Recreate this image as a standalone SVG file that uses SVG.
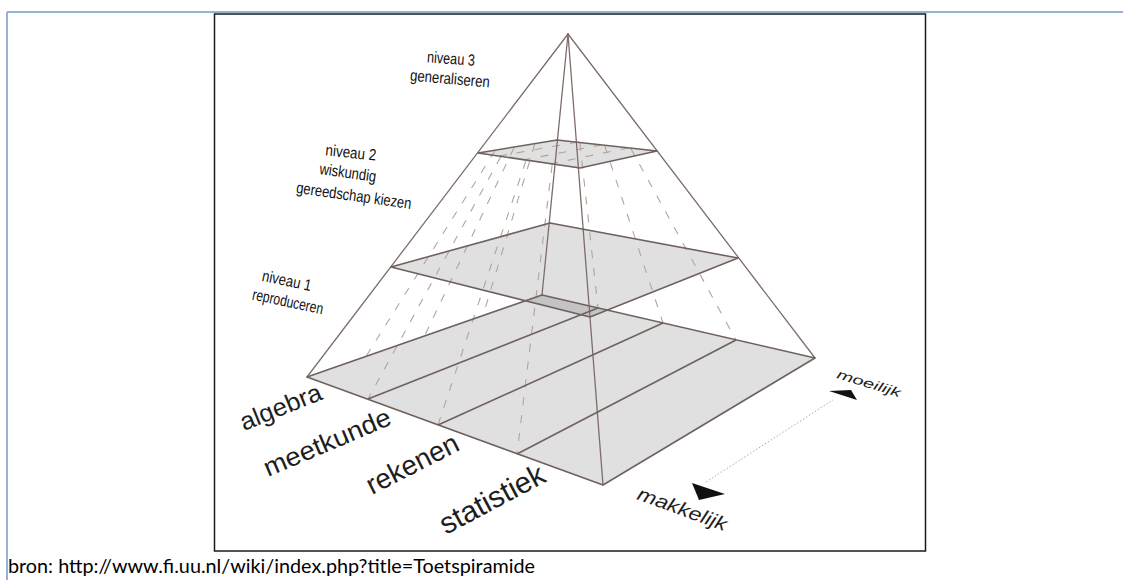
<svg xmlns="http://www.w3.org/2000/svg" width="1123" height="580" viewBox="0 0 1123 580">
<style>
.edge{stroke:#7d6d69;stroke-width:1.3;fill:none;stroke-linecap:round}
.outl{stroke:#6f615d;stroke-width:1.6;fill:none;stroke-linejoin:round}
.dash{stroke:#b3a39e;stroke-width:1.1;stroke-dasharray:8 10;fill:none}
.plane{fill:#000;fill-opacity:0.12}
.lvl{font-family:"Liberation Sans",Arial,sans-serif;font-size:16px;fill:#111;text-anchor:middle}
.subj{font-family:"Liberation Sans",Arial,sans-serif;fill:#1e1e1e}
</style>
<rect width="1123" height="580" fill="#fff"/>
<g id="page-frame">
<line x1="7" y1="12" x2="1123" y2="12" stroke="#95b3d7" stroke-width="2"/>
<line x1="7" y1="12" x2="7" y2="580" stroke="#95b3d7" stroke-width="2"/>
</g>
<g id="image-frame">
<rect x="214.5" y="14" width="711" height="537" fill="#fff" stroke="#1a1a1a" stroke-width="1.5"/>
</g>
<g id="planes">
<polygon class="plane" points="307,377 603,485 815,358 542,295"/>
<polygon class="plane" points="391,267 590,317 738,258 550,223"/>
<polygon class="plane" fill-opacity="0.08" points="478,153 580,168 657,151 557,140"/>
</g>
<g id="connectors">
<g id="dashed-lines">
<line class="dash" x1="500.6" y1="157" x2="368" y2="399"/>
<line class="dash" x1="525.8" y1="161.1" x2="438" y2="425"/>
<line class="dash" x1="552.1" y1="165" x2="517" y2="454"/>
<line class="dash" x1="579.9" y1="142.8" x2="598" y2="308"/>
<line class="dash" x1="604.7" y1="145.6" x2="663" y2="323"/>
<line class="dash" x1="630.8" y1="148.4" x2="736" y2="340"/>
<line class="dash" x1="494.9" y1="150.7" x2="366" y2="356.5"/>
<line class="dash" x1="513.9" y1="147.9" x2="424.5" y2="336"/>
<line class="dash" x1="534.8" y1="144.1" x2="483" y2="315.5"/>
<line class="dash" stroke-dasharray="5 4" x1="499" y1="156" x2="578" y2="142"/>
<line class="dash" stroke-dasharray="5 4" x1="523" y1="160" x2="601" y2="145"/>
<line class="dash" stroke-dasharray="5 4" x1="550" y1="164" x2="628" y2="148"/>
</g>
<g id="solid-lines">
<line class="edge" x1="568" y1="34" x2="307" y2="377"/>
<line class="edge" x1="568" y1="34" x2="815" y2="358"/>
<line class="edge" x1="568" y1="34" x2="603" y2="485"/>
<line class="edge" x1="568" y1="34" x2="542" y2="295"/>
<polygon class="outl" points="307,377 603,485 815,358 542,295"/>
<polygon class="outl" points="391,267 590,317 738,258 550,223"/>
<polygon class="outl" points="478,153 580,168 657,151 557,140"/>
<line class="outl" x1="368" y1="399" x2="598" y2="308"/>
<line class="outl" x1="438" y1="425" x2="663" y2="323"/>
<line class="outl" x1="517" y1="454" x2="736" y2="340"/>
</g>
<g id="difficulty-arrow">
<line x1="706" y1="482" x2="833" y2="400" stroke="#a9a9a9" stroke-width="1" stroke-dasharray="1.5 2"/>
<polygon points="692,483 725,494 699,500" fill="#111"/>
<polygon points="829,391 851,390 857,400" fill="#111"/>
</g>
</g>
<g id="level-labels">
<text class="lvl" x="451" y="64" textLength="48" lengthAdjust="spacingAndGlyphs" transform="rotate(4 451 58)">niveau 3</text>
<text class="lvl" x="450" y="84" textLength="80" lengthAdjust="spacingAndGlyphs" transform="rotate(5 450 78)">generaliseren</text>
<text class="lvl" x="351" y="158" textLength="51" lengthAdjust="spacingAndGlyphs" transform="rotate(6 351 152)">niveau 2</text>
<text class="lvl" x="348" y="178" textLength="57" lengthAdjust="spacingAndGlyphs" transform="rotate(8 348 172)">wiskundig</text>
<text class="lvl" x="354" y="201" textLength="116" lengthAdjust="spacingAndGlyphs" transform="rotate(8 354 195)">gereedschap kiezen</text>
<text class="lvl" x="287" y="286" textLength="50" lengthAdjust="spacingAndGlyphs" transform="rotate(12 287 280)">niveau 1</text>
<text class="lvl" x="288" y="307" textLength="72" lengthAdjust="spacingAndGlyphs" transform="rotate(12 288 301)">reproduceren</text>
</g>
<g id="subject-labels">
<text class="subj" font-size="25" x="0" y="0" textLength="86" lengthAdjust="spacingAndGlyphs" transform="translate(244 431) rotate(-22)">algebra</text>
<text class="subj" font-size="26" x="0" y="0" textLength="136" lengthAdjust="spacingAndGlyphs" transform="translate(268 477) rotate(-23)">meetkunde</text>
<text class="subj" font-size="28" x="0" y="0" textLength="100" lengthAdjust="spacingAndGlyphs" transform="translate(372 495) rotate(-27)">rekenen</text>
<text class="subj" font-size="30" x="0" y="0" textLength="115" lengthAdjust="spacingAndGlyphs" transform="translate(446 535) rotate(-28)">statistiek</text>
</g>
<g id="difficulty-labels">
<text class="subj" font-size="19" font-style="italic" x="0" y="0" textLength="94" lengthAdjust="spacingAndGlyphs" transform="translate(636 499) rotate(20)">makkelijk</text>
<text class="subj" font-size="13" font-style="italic" x="0" y="0" textLength="66" lengthAdjust="spacingAndGlyphs" transform="translate(836 378) rotate(17)">moeilijk</text>
</g>
<g id="caption">
<text x="8" y="573" font-family="Lato,'Open Sans',sans-serif" font-size="19" fill="#000" textLength="527" lengthAdjust="spacingAndGlyphs">bron: http://www.fi.uu.nl/wiki/index.php?title=Toetspiramide</text>
</g>
</svg>
